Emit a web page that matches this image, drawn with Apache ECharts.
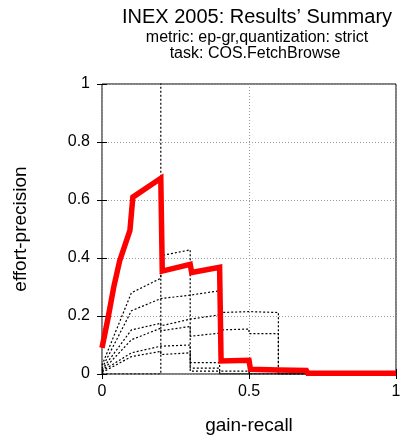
<!DOCTYPE html>
<html>
<head>
<meta charset="utf-8">
<script src="https://cdn.jsdelivr.net/npm/echarts@6/dist/echarts.min.js"></script>
<style>
  html, body { margin: 0; padding: 0; background: #fff; }
  #chart { width: 407px; height: 440px; }
</style>
</head>
<body>
<div id="chart"></div>
<script>
// recall / precision points
const xTicks = [0, 0.5, 1];
const yTicks = [0, 0.2, 0.4, 0.6, 0.8, 1];

// the highlighted run (red)
const mainRun = [[0, 0.09], [0.02, 0.19], [0.04, 0.3], [0.06, 0.39], [0.095, 0.495], [0.105, 0.61],
  [0.2, 0.675], [0.205, 0.355], [0.3, 0.378], [0.305, 0.35], [0.4, 0.368], [0.405, 0.045],
  [0.5, 0.047], [0.505, 0.016], [0.6, 0.014], [0.695, 0.012], [0.7, 0.003], [1, 0.003]];

// other runs (black dotted)
const run1 = [[0, 0.03], [0.1, 0.28], [0.2, 0.33], [0.2, 0.408], [0.3, 0.428], [0.3, 0.039], [0.4, 0.039], [0.4, 0.01], [0.5, 0.01], [0.5, 0], [1, 0]];
const run2 = [[0, 0.02], [0.1, 0.218], [0.2, 0.26], [0.2, 0.255], [0.3, 0.272], [0.3, 0.277], [0.4, 0.287], [0.4, 0.05], [0.5, 0.05], [0.5, 0.017], [0.6, 0.017], [0.6, 0], [1, 0]];
const run3 = [[0, 0.015], [0.1, 0.152], [0.2, 0.175], [0.2, 0.166], [0.3, 0.189], [0.3, 0.192], [0.4, 0.204], [0.4, 0.212], [0.5, 0.215], [0.6, 0.212], [0.6, 0], [1, 0]];
const run4 = [[0, 0.01], [0.1, 0.118], [0.2, 0.158], [0.2, 0.149], [0.3, 0.164], [0.3, 0.13], [0.4, 0.141], [0.4, 0.152], [0.5, 0.155], [0.5, 0.139], [0.6, 0.139], [0.6, 0], [1, 0]];
const run5 = [[0, 0.01], [0.1, 0.073], [0.2, 0.096], [0.2, 0.09], [0.3, 0.1], [0.3, 0.02], [0.4, 0.02], [0.4, 0], [1, 0]];
const run6 = [[0, 0.005], [0.1, 0.06], [0.2, 0.078], [0.2, 0.067], [0.3, 0.073], [0.3, 0.01], [0.4, 0.01], [0.4, 0], [1, 0]];
const run7 = [[0, 0], [0.2, 0], [0.2, 1.05]];
const otherRuns = [run1, run2, run3, run4, run5, run6, run7];

const font = "'Liberation Sans', Arial, sans-serif";
const chart = echarts.init(document.getElementById("chart"));

let series = otherRuns.map((run) => ({
  type: "line",
  data: run,
  symbol: "none",
  silent: true,
  lineStyle: { color: "#000", width: 1.2, type: [2, 2] },
}));
series.push({
  type: "line",
  data: mainRun,
  symbol: "none",
  silent: true,
  z: 5,
  lineStyle: { color: "#ff0000", width: 5.5, join: "miter" },
});

const mirrorAxis = {
  min: 0, max: 1,
  axisLine: { show: false },
  axisLabel: { show: false },
  splitLine: { show: false },
  axisTick: { show: true, inside: true, length: 5, lineStyle: { color: "#000" } },
};

const option = {
  animation: false,
  graphic: [
    { type: "text", x: 257, y: 7, style: { text: "INEX 2005: Results’ Summary", font: "20px " + font, fill: "#000", textAlign: "center" } },
    { type: "text", x: 257, y: 30, style: { text: "metric: ep-gr,quantization: strict", font: "16px " + font, fill: "#000", textAlign: "center" } },
    { type: "text", x: 255, y: 46, style: { text: "task: COS.FetchBrowse", font: "16px " + font, fill: "#000", textAlign: "center" } },
  ],
  grid: { left: 102, right: 11, top: 84, bottom: 62, show: true, borderColor: "#000", borderWidth: 1 },
  xAxis: [{
    type: "value", min: xTicks[0], max: xTicks[xTicks.length - 1], interval: 0.5,
    name: "gain-recall", nameLocation: "middle", nameGap: 42,
    nameTextStyle: { fontSize: 19, fontFamily: font, color: "#000" },
    axisLine: { show: false },
    axisTick: { show: true, inside: true, length: 5, lineStyle: { color: "#000" } },
    axisLabel: { fontSize: 16, fontFamily: font, color: "#000", margin: 10 },
    splitLine: { show: true, lineStyle: { color: "#999", type: [1, 2] } },
  }, Object.assign({ type: "value", position: "top", interval: 0.5 }, mirrorAxis)],
  yAxis: [{
    type: "value", min: yTicks[0], max: yTicks[yTicks.length - 1], interval: 0.2,
    name: "effort-precision", nameLocation: "middle", nameGap: 72, nameRotate: 90,
    nameTextStyle: { fontSize: 19, fontFamily: font, color: "#000" },
    axisLine: { show: false },
    axisTick: { show: true, inside: true, length: 5, lineStyle: { color: "#000" } },
    axisLabel: { fontSize: 16, fontFamily: font, color: "#000", margin: 12 },
    splitLine: { show: true, lineStyle: { color: "#999", type: [1, 2] } },
  }, Object.assign({ type: "value", position: "right", interval: 0.2 }, mirrorAxis)],
  series: series,
};
chart.setOption(option);
</script>
</body>
</html>
